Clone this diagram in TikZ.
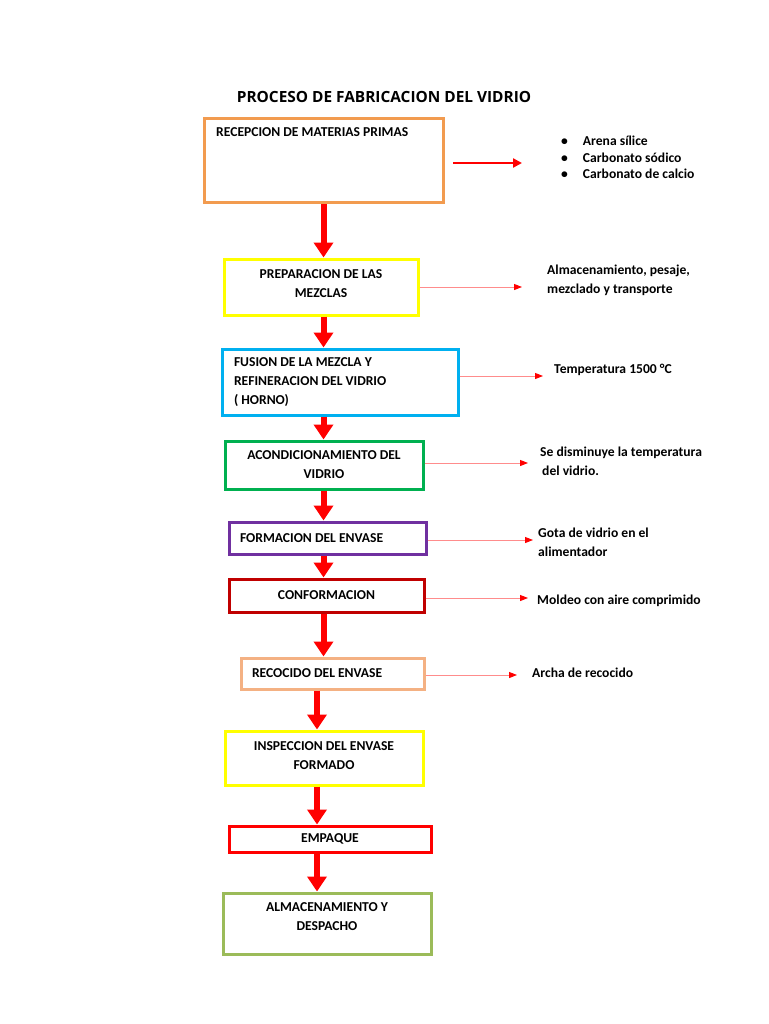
\documentclass[tikz,border=0pt]{standalone}
\usepackage{fontspec}
\setmainfont{Carlito}
\newfontfamily\titlefont{Open Sans}
\usetikzlibrary{arrows.meta,positioning}

\definecolor{boxorange}{HTML}{F29B4F}
\definecolor{boxyellow}{HTML}{FFFF00}
\definecolor{boxblue}{HTML}{00B0F0}
\definecolor{boxgreen}{HTML}{00B050}
\definecolor{boxpurple}{HTML}{7030A0}
\definecolor{boxdarkred}{HTML}{C00000}
\definecolor{boxpeach}{HTML}{F4B183}
\definecolor{boxred}{HTML}{FF0000}
\definecolor{boxolive}{HTML}{9BBB59}
\definecolor{arrowred}{HTML}{FF0000}

\tikzset{
  txt/.style={font=\bfseries\fontsize{13.6}{19}\selectfont, inner sep=0pt},
  stage/.style={draw=#1, line width=3pt, inner sep=0pt, txt},
  note/.style={txt, anchor=north west, align=flush left},
  flow/.style={draw=arrowred, line width=6pt, -{Triangle[width=19pt,length=15pt]}},
  thinflow/.style={draw=arrowred!45, line width=1pt, -{Triangle[width=6pt,length=8pt,color=arrowred]}},
}

\begin{document}
\begin{tikzpicture}[x=1pt, y=-1pt]
        % page
        \useasboundingbox[fill=white] (0,0) rectangle (768,1024);

        % title
        \node[inner sep=0pt, font=\titlefont\bfseries\fontsize{15.4}{17}\selectfont] (title) at (384,97) {PROCESO DE FABRICACION DEL VIDRIO};

        % stages
        \node[stage=boxorange, minimum width=239, minimum height=84] (recep) at (323.5,161) {};
        \node[txt, anchor=north west] (recep text) at (216,127) {RECEPCION DE MATERIAS PRIMAS};
        \node[stage=boxyellow, minimum width=194, minimum height=56, align=center] (prep) at (321,287) {PREPARACION DE LAS\\MEZCLAS\\[-12pt]};
        \node[stage=boxblue, minimum width=236, minimum height=66, text width=212, align=flush left] (fusion) at (340,382) {FUSION DE LA MEZCLA Y\\REFINERACION DEL VIDRIO\\( HORNO)};
        \node[stage=boxgreen, minimum width=198, minimum height=48, align=center] (acond) at (324,465) {ACONDICIONAMIENTO DEL\\VIDRIO};
        \node[stage=boxpurple, minimum width=197, minimum height=32, text width=175, align=flush left] (formac) at (327.5,538) {FORMACION DEL ENVASE};
        \node[stage=boxdarkred, minimum width=195, minimum height=33] (conf) at (326.5,595.5) {CONFORMACION};
        \node[stage=boxpeach, minimum width=183, minimum height=31, text width=161, align=flush left] (recoc) at (332.5,673.5) {RECOCIDO DEL ENVASE};
        \node[stage=boxyellow, minimum width=198, minimum height=54, align=center] (insp) at (324,758) {INSPECCION DEL ENVASE\\FORMADO\\[-14pt]};
        \node[stage=boxred, minimum width=202, minimum height=26] (emp) at (330,839) {EMPAQUE};
        \node[stage=boxolive, minimum width=208, minimum height=61, align=center] (alm) at (327,923.5) {ALMACENAMIENTO Y\\DESPACHO\\[-5pt]};

        % main flow
        \coordinate (colA) at (323.5,0);
        \coordinate (colB) at (317,0);
        \draw[flow] (recep.south -| colA) -- (prep.north -| colA);
        \draw[flow] (prep.south -| colA) -- (fusion.north -| colA);
        \draw[flow] (fusion.south -| colA) -- (acond.north -| colA);
        \draw[flow] (acond.south -| colA) -- (formac.north -| colA);
        \draw[flow] (formac.south -| colA) -- (conf.north -| colA);
        \draw[flow] (conf.south -| colA) -- (recoc.north -| colA);
        \draw[flow] (recoc.south -| colB) -- (insp.north -| colB);
        \draw[flow] (insp.south -| colB) -- (emp.north -| colB);
        \draw[flow] (emp.south -| colB) -- (alm.north -| colB);

        % notes
        \node[txt, anchor=north west, font=\bfseries\fontsize{13.6}{16.5}\selectfont] (note1) at (561,134) {%
          \begin{tabular}[t]{@{}l@{\hspace{15pt}}l@{}}
            \textbullet & Arena sílice\\
            \textbullet & Carbonato sódico\\
            \textbullet & Carbonato de calcio
          \end{tabular}};
        \node[note] (note2) at (547,265) {Almacenamiento, pesaje,\\mezclado y transporte};
        \node[note] (note3) at (554,364) {Temperatura 1500 °C};
        \node[note] (note4) at (540,447) {Se disminuye la temperatura\\\hspace{2pt}del vidrio.};
        \node[note] (note5) at (538,528) {Gota de vidrio en el\\alimentador};
        \node[note] (note6) at (537,595) {Moldeo con aire comprimido};
        \node[note] (note7) at (532,668) {Archa de recocido};

        % side arrows
        \coordinate (tail1) at (453,163);
        \coordinate (tip1) at (522,163);
        \coordinate (tip2) at (522,287);
        \coordinate (tip3) at (543,376);
        \coordinate (tip4) at (528,463);
        \coordinate (tip5) at (533,540);
        \coordinate (tip6) at (528,598);
        \coordinate (tip7) at (517,675);
        \draw[draw=arrowred, line width=2.5pt, -{Triangle[width=9pt,length=9pt]}] (tail1) -- (tip1);
        \draw[thinflow] (prep.east |- tip2) -- (tip2);
        \draw[thinflow] (fusion.east |- tip3) -- (tip3);
        \draw[thinflow] (acond.east |- tip4) -- (tip4);
        \draw[thinflow] (formac.east |- tip5) -- (tip5);
        \draw[thinflow] (conf.east |- tip6) -- (tip6);
        \draw[thinflow] (recoc.east |- tip7) -- (tip7);
\end{tikzpicture}
\end{document}
